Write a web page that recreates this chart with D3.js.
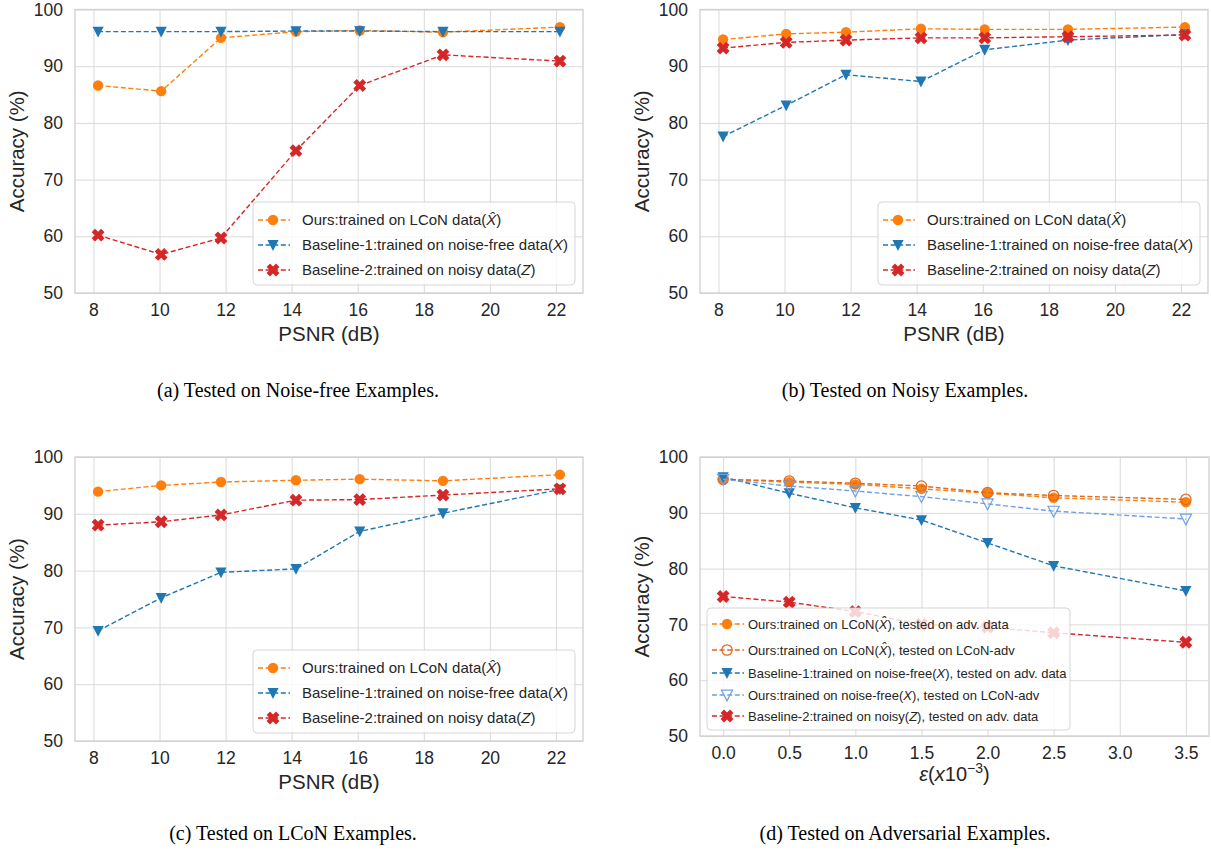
<!DOCTYPE html>
<html>
<head>
<meta charset="utf-8">
<script src="https://cdn.jsdelivr.net/npm/d3@7"></script>
<style>
  body { margin: 0; background: #fff; }
  svg text { font-family: "Liberation Sans", Arial, sans-serif; fill: #262626; }
  .tick line { stroke: #dadada; stroke-width: 1; }
  .caption { font-family: "Liberation Serif", "Times New Roman", serif; fill: #000; }
</style>
</head>
<body>
<div id="chart-area"></div>
<script>
// ticks
const accTicks = [50, 60, 70, 80, 90, 100];
const psnrTicks = [8, 10, 12, 14, 16, 18, 20, 22];
const epsTicks = [0, 0.5, 1, 1.5, 2, 2.5, 3, 3.5];

// x positions of the measurements
const psnr = [8.14, 10.05, 11.86, 14.13, 16.06, 18.58, 22.12];
const eps = [0, 0.5, 1.0, 1.5, 2.0, 2.5, 3.5];

// (a) tested on noise-free examples
const cleanOurs  = [86.6, 85.6, 95.0, 96.1, 96.3, 96.0, 96.9];
const cleanBase1 = [96.1, 96.1, 96.1, 96.2, 96.2, 96.1, 96.1];
const cleanBase2 = [60.2, 56.8, 59.7, 75.1, 86.6, 92.0, 90.9];

// (b) tested on noisy examples
const noisyOurs  = [94.7, 95.7, 96.0, 96.6, 96.5, 96.5, 96.9];
const noisyBase1 = [77.6, 83.1, 88.5, 87.3, 92.9, 94.6, 95.6];
const noisyBase2 = [93.2, 94.2, 94.6, 95.0, 95.0, 95.2, 95.5];

// (c) tested on LCoN examples
const lconOurs  = [93.9, 95.0, 95.6, 95.9, 96.1, 95.8, 96.9];
const lconBase1 = [69.4, 75.2, 79.7, 80.3, 86.9, 90.1, 94.3];
const lconBase2 = [88.0, 88.6, 89.8, 92.4, 92.5, 93.3, 94.4];

// (d) tested on adversarial examples
const advOurs     = [96.0, 95.5, 95.1, 94.3, 93.5, 92.7, 91.9];
const advOursLcon = [96.0, 95.7, 95.3, 94.8, 93.6, 93.1, 92.4];
const advBase1    = [96.4, 93.5, 90.9, 88.7, 84.6, 80.5, 76.0];
const advFreeLcon = [96.0, 94.8, 93.9, 92.9, 91.6, 90.3, 88.9];
const advBase2    = [75.0, 74.0, 72.3, 70.0, 69.5, 68.5, 66.8];

// text (*...* = italic)
const psnrLegend = [
    'Ours:trained on LCoN data(*X\u0302*)',
    'Baseline-1:trained on noise-free data(*X*)',
    'Baseline-2:trained on noisy data(*Z*)'
];
const advLegend = [
    'Ours:trained on LCoN(*X\u0302*), tested on adv. data',
    'Ours:trained on LCoN(*X\u0302*), tested on LCoN-adv',
    'Baseline-1:trained on noise-free(*X*), tested on adv. data',
    'Ours:trained on noise-free(*X*), tested on LCoN-adv',
    'Baseline-2:trained on noisy(*Z*), tested on adv. data'
];
const captions = [
    '(a) Tested on Noise-free Examples.',
    '(b) Tested on Noisy Examples.',
    '(c) Tested on LCoN Examples.',
    '(d) Tested on Adversarial Examples.'
];

const ORANGE = '#ff7f0e', BLUE = '#1f77b4', RED = '#d62728';

const svg = d3.select('#chart-area')
    .append('svg')
    .attr('width', 1211)
    .attr('height', 854);

function xPath(s, w) {
    // filled "X" marker: plus sign turned by 45 degrees
    const pts = [[-w, -s], [w, -s], [w, -w], [s, -w], [s, w], [w, w], [w, s], [-w, s], [-w, w], [-s, w], [-s, -w], [-w, -w]];
    const c = Math.SQRT1_2;
    return 'M' + pts.map(([a, b]) => [(a - b) * c, (a + b) * c].map((v) => v.toFixed(2)).join(',')).join('L') + 'Z';
}

function addMarker(g, kind, color, hollow) {
    const fill = hollow ? 'none' : color;
    const stroke = hollow ? color : 'none';
    if (kind === 'circle') {
        g.append('circle').attr('r', 5.2).attr('fill', fill).attr('stroke', stroke).attr('stroke-width', 1.3);
    } else if (kind === 'tri') {
        g.append('path').attr('d', 'M-5.6,-4.9L5.6,-4.9L0,5.9Z')
            .attr('fill', fill).attr('stroke', stroke).attr('stroke-width', 1.2);
    } else {
        g.append('path').attr('d', xPath(6.7, 2.4)).attr('fill', fill);
    }
}

function richText(sel, str) {
    str.split('*').forEach((part, i) => {
        sel.append('tspan').attr('font-style', i % 2 ? 'italic' : null).text(part);
    });
}

function drawPanel(p) {
    const lo = d3.min(p.xs), hi = d3.max(p.xs);
    const pad = (hi - lo) * 0.05;
    const x = d3.scaleLinear().domain([lo - pad, hi + pad]).range([p.left, p.right]);
    const y = d3.scaleLinear().domain([50, 100]).range([p.bottom, p.top]);

    const chart = svg.append('g');

    const bottomAxisCall = d3.axisBottom(x)
        .tickValues(p.xTicks)
        .tickFormat(p.xFormat)
        .tickSize(-(p.bottom - p.top))
        .tickPadding(10.5);
    const leftAxisCall = d3.axisLeft(y)
        .tickValues(accTicks)
        .tickSize(-(p.right - p.left))
        .tickPadding(12);

    chart.append('g')
        .attr('transform', `translate(0, ${p.bottom})`)
        .call(bottomAxisCall)
        .call((g) => g.select('.domain').remove())
        .selectAll('text').attr('font-size', 17.5).attr('fill', '#262626');

    chart.append('g')
        .attr('transform', `translate(${p.left}, 0)`)
        .call(leftAxisCall)
        .call((g) => g.select('.domain').remove())
        .selectAll('text').attr('font-size', 17.5).attr('fill', '#262626');

    chart.append('rect')
        .attr('x', p.left).attr('y', p.top)
        .attr('width', p.right - p.left).attr('height', p.bottom - p.top)
        .attr('fill', 'none').attr('stroke', '#d0d0d0').attr('stroke-width', 1.3);

    const line = d3.line().x((d, i) => x(p.xs[i])).y((d) => y(d));

    p.series.forEach((s) => {
        chart.append('path')
            .attr('d', line(s.values))
            .attr('fill', 'none')
            .attr('stroke', s.color)
            .attr('stroke-width', 1.4)
            .attr('stroke-dasharray', '5,2.6');
        s.values.forEach((v, i) => {
            const m = chart.append('g').attr('transform', `translate(${x(p.xs[i])},${y(v)})`);
            addMarker(m, s.marker, s.color, s.hollow);
        });
    });

    // axis titles
    chart.append('text')
        .attr('transform', `translate(${p.left - 58},${(p.top + p.bottom) / 2}) rotate(-90)`)
        .attr('text-anchor', 'middle')
        .attr('dy', '0.35em')
        .attr('font-size', 20.5)
        .text('Accuracy (%)');

    const xt = chart.append('text')
        .attr('x', (p.left + p.right) / 2)
        .attr('y', p.bottom + p.xTitleOffset)
        .attr('text-anchor', 'middle')
        .attr('font-size', 20.5);
    p.xTitle(xt);

    // legend
    const L = p.legend;
    const lg = chart.append('g').attr('transform', `translate(${L.x},${L.y})`);
    lg.append('rect')
        .attr('width', L.w).attr('height', L.h)
        .attr('rx', 4)
        .attr('fill', '#fff').attr('fill-opacity', 0.8)
        .attr('stroke', '#cccccc').attr('stroke-opacity', 0.8);
    p.series.forEach((s, i) => {
        const row = lg.append('g').attr('transform', `translate(0,${L.rows[i]})`);
        row.append('line')
            .attr('x1', 5).attr('x2', 37)
            .attr('stroke', s.color).attr('stroke-width', 1.4).attr('stroke-dasharray', '5,2.6');
        addMarker(row.append('g').attr('transform', 'translate(20,0)'), s.marker, s.color, s.hollow);
        const t = row.append('text')
            .attr('x', L.textX)
            .attr('dy', '0.35em')
            .attr('font-size', L.fontSize);
        richText(t, p.labels[i]);
    });

    svg.append('text')
        .attr('class', 'caption')
        .attr('x', p.captionX)
        .attr('y', p.captionY)
        .attr('text-anchor', 'middle')
        .attr('font-size', 20)
        .text(p.caption);
}

const psnrTitle = (t) => t.text('PSNR (dB)');
const epsTitle = (t) => {
    t.attr('font-family', '"DejaVu Sans", sans-serif').attr('font-size', 20);
    t.append('tspan').attr('font-style', 'italic').text('\u03b5');
    t.append('tspan').text('(');
    t.append('tspan').attr('font-style', 'italic').text('x');
    t.append('tspan').text('10');
    t.append('tspan').attr('font-size', 14).attr('dy', -8).text('\u22123');
    t.append('tspan').attr('dy', 8).text(')');
};

const psnrSeries = (ours, b1, b2) => [
    { values: ours, color: ORANGE, marker: 'circle' },
    { values: b1, color: BLUE, marker: 'tri' },
    { values: b2, color: RED, marker: 'x' }
];

const psnrLegendBox = (right, bottom) => ({
    x: right - 330, y: bottom - 91, w: 322, h: 83,
    rows: [18, 43, 68], textX: 49, fontSize: 15
});

drawPanel({
    left: 75, right: 583, top: 9.5, bottom: 293,
    xs: psnr, xTicks: psnrTicks, xFormat: d3.format('d'),
    series: psnrSeries(cleanOurs, cleanBase1, cleanBase2),
    labels: psnrLegend, legend: psnrLegendBox(583, 293),
    xTitle: psnrTitle, xTitleOffset: 48,
    caption: captions[0], captionX: 298, captionY: 397
});

drawPanel({
    left: 700, right: 1208, top: 9.5, bottom: 293,
    xs: psnr, xTicks: psnrTicks, xFormat: d3.format('d'),
    series: psnrSeries(noisyOurs, noisyBase1, noisyBase2),
    labels: psnrLegend, legend: psnrLegendBox(1208, 293),
    xTitle: psnrTitle, xTitleOffset: 48,
    caption: captions[1], captionX: 905, captionY: 397
});

drawPanel({
    left: 75, right: 583, top: 457, bottom: 741,
    xs: psnr, xTicks: psnrTicks, xFormat: d3.format('d'),
    series: psnrSeries(lconOurs, lconBase1, lconBase2),
    labels: psnrLegend, legend: psnrLegendBox(583, 741),
    xTitle: psnrTitle, xTitleOffset: 48,
    caption: captions[2], captionX: 293, captionY: 840
});

drawPanel({
    left: 700, right: 1209, top: 457, bottom: 736,
    xs: eps, xTicks: epsTicks, xFormat: d3.format('.1f'),
    series: [
        { values: advOurs, color: ORANGE, marker: 'circle' },
        { values: advOursLcon, color: '#dd6b20', marker: 'circle', hollow: true },
        { values: advBase1, color: BLUE, marker: 'tri' },
        { values: advFreeLcon, color: '#6fa0e6', marker: 'tri', hollow: true },
        { values: advBase2, color: RED, marker: 'x' }
    ],
    labels: advLegend,
    legend: { x: 707, y: 608, w: 363, h: 122, rows: [16, 42, 65, 87, 108], textX: 41, fontSize: 13 },
    xTitle: epsTitle, xTitleOffset: 45,
    caption: captions[3], captionX: 905, captionY: 840
});
</script>
</body>
</html>
